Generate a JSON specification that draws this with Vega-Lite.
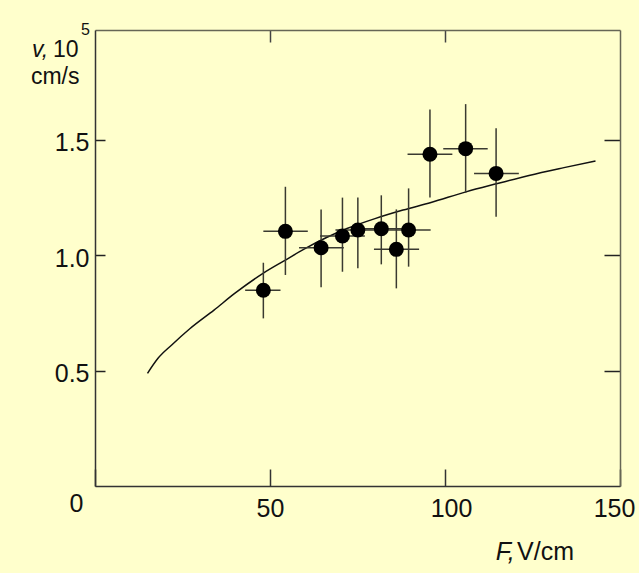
{
  "$schema": "https://vega.github.io/schema/vega-lite/v6.json",
  "width": 525,
  "height": 456,
  "autosize": {"type": "none"},
  "padding": {"left": 95, "top": 30, "right": 19, "bottom": 87},
  "background": "#ffffcc",
  "config": {
    "view": {"stroke": null},
    "font": "Liberation Sans",
    "axis": {"grid": false, "labelFont": "Liberation Sans", "labelFontSize": 25, "labelColor": "#111", "domainWidth": 1.5, "tickWidth": 1.5, "title": null}
  },
  "datasets": {
    "pts": [
      {"F": 48.1, "v": 0.848, "vlo": 0.726, "vhi": 0.967, "Flo": 42.9, "Fhi": 53.0},
      {"F": 54.4, "v": 1.103, "vlo": 0.914, "vhi": 1.296, "Flo": 48.1, "Fhi": 60.8},
      {"F": 64.6, "v": 1.032, "vlo": 0.861, "vhi": 1.198, "Flo": 58.3, "Fhi": 71.1},
      {"F": 70.7, "v": 1.083, "vlo": 0.928, "vhi": 1.249, "Flo": 64.3, "Fhi": 77.1},
      {"F": 75.1, "v": 1.109, "vlo": 0.943, "vhi": 1.250, "Flo": 68.7, "Fhi": 81.5},
      {"F": 81.8, "v": 1.114, "vlo": 0.960, "vhi": 1.259, "Flo": 75.4, "Fhi": 88.2},
      {"F": 86.1, "v": 1.025, "vlo": 0.856, "vhi": 1.198, "Flo": 79.7, "Fhi": 92.6},
      {"F": 89.6, "v": 1.109, "vlo": 0.950, "vhi": 1.289, "Flo": 83.3, "Fhi": 95.9},
      {"F": 95.7, "v": 1.437, "vlo": 1.249, "vhi": 1.631, "Flo": 89.3, "Fhi": 102.1},
      {"F": 105.9, "v": 1.461, "vlo": 1.270, "vhi": 1.654, "Flo": 99.5, "Fhi": 112.2},
      {"F": 114.6, "v": 1.354, "vlo": 1.166, "vhi": 1.549, "Flo": 108.3, "Fhi": 121.1}
    ],
    "curve": [
      {"F": 15, "v": 0.488}, {"F": 18, "v": 0.553}, {"F": 22, "v": 0.612}, {"F": 27, "v": 0.680},
      {"F": 34, "v": 0.762}, {"F": 40, "v": 0.835}, {"F": 48, "v": 0.921}, {"F": 54, "v": 0.975},
      {"F": 60, "v": 1.028}, {"F": 66, "v": 1.075}, {"F": 72, "v": 1.115}, {"F": 80, "v": 1.158},
      {"F": 88, "v": 1.195}, {"F": 96, "v": 1.228}, {"F": 106, "v": 1.274}, {"F": 115, "v": 1.310},
      {"F": 124, "v": 1.345}, {"F": 134, "v": 1.379}, {"F": 143, "v": 1.408}
    ]
  },
  "resolve": {"axis": {"x": "independent", "y": "independent"}},
  "layer": [
    {
      "data": {"name": "curve"},
      "mark": {"type": "line", "color": "#111", "strokeWidth": 1.5, "interpolate": "monotone"},
      "encoding": {
        "x": {"field": "F", "type": "quantitative", "scale": {"domain": [0, 150], "nice": false, "zero": false},
          "axis": {"orient": "bottom", "values": [0, 50, 100, 150], "tickSize": -17, "domainColor": "#333", "tickColor": "#333", "labelFlush": false, "labelOverlap": false, "labelBound": false,
            "labelPadding": {"condition": {"test": "datum.value === 0", "value": 22}, "value": 27},
            "labelOffset": {"condition": [{"test": "datum.value === 0", "value": -19}, {"test": "datum.value === 100", "value": 6}, {"test": "datum.value === 150", "value": -6}], "value": 0}}},
        "y": {"field": "v", "type": "quantitative", "scale": {"domain": [0, 1.975], "nice": false, "zero": false},
          "axis": {"orient": "left", "values": [0.5, 1.0, 1.5], "format": ".1f", "tickSize": -10, "labelPadding": 16, "labelOffset": 3, "domainColor": "#333", "tickColor": "#222"}}
      }
    },
    {
      "data": {"name": "pts"},
      "mark": {"type": "rule", "color": "#3a3a30", "strokeWidth": 1.5},
      "encoding": {
        "x": {"field": "F", "type": "quantitative", "axis": {"orient": "top", "values": [50, 100], "labels": false, "tickSize": -12, "domainColor": "#666655", "tickColor": "#444"}},
        "y": {"field": "vlo", "type": "quantitative", "axis": {"orient": "right", "values": [0.5, 1.0, 1.5], "labels": false, "tickSize": -16, "domainColor": "#666655", "tickColor": "#222"}},
        "y2": {"field": "vhi"}
      }
    },
    {
      "data": {"name": "pts"},
      "mark": {"type": "rule", "color": "#3a3a30", "strokeWidth": 1.5},
      "encoding": {
        "x": {"field": "Flo", "type": "quantitative", "axis": null},
        "x2": {"field": "Fhi"},
        "y": {"field": "v", "type": "quantitative", "axis": null}
      }
    },
    {
      "data": {"name": "pts"},
      "mark": {"type": "point", "shape": "circle", "filled": true, "color": "#000", "opacity": 1, "size": 225},
      "encoding": {
        "x": {"field": "F", "type": "quantitative", "axis": null},
        "y": {"field": "v", "type": "quantitative", "axis": null}
      }
    },
    {
      "data": {"values": [{}]},
      "mark": {"type": "text", "text": "v,", "font": "Liberation Sans", "fontSize": 23, "fontStyle": "italic", "align": "left", "baseline": "alphabetic", "color": "#111"},
      "encoding": {"x": {"datum": -18, "type": "quantitative", "axis": null}, "y": {"datum": 1.858, "type": "quantitative", "axis": null}}
    },
    {
      "data": {"values": [{}]},
      "mark": {"type": "text", "text": "10", "font": "Liberation Sans", "fontSize": 23, "align": "left", "baseline": "alphabetic", "color": "#111"},
      "encoding": {"x": {"datum": -12, "type": "quantitative", "axis": null}, "y": {"datum": 1.858, "type": "quantitative", "axis": null}}
    },
    {
      "data": {"values": [{}]},
      "mark": {"type": "text", "text": "5", "font": "Liberation Sans", "fontSize": 16, "align": "left", "baseline": "alphabetic", "color": "#111"},
      "encoding": {"x": {"datum": -4, "type": "quantitative", "axis": null}, "y": {"datum": 1.953, "type": "quantitative", "axis": null}}
    },
    {
      "data": {"values": [{}]},
      "mark": {"type": "text", "text": "cm/s", "font": "Liberation Sans", "fontSize": 23, "align": "left", "baseline": "alphabetic", "color": "#111"},
      "encoding": {"x": {"datum": -18.3, "type": "quantitative", "axis": null}, "y": {"datum": 1.741, "type": "quantitative", "axis": null}}
    },
    {
      "data": {"values": [{}]},
      "mark": {"type": "text", "text": "F,", "font": "Liberation Sans", "fontSize": 25, "fontStyle": "italic", "align": "left", "baseline": "alphabetic", "color": "#111"},
      "encoding": {"x": {"datum": 114.5, "type": "quantitative", "axis": null}, "y": {"datum": -0.32, "type": "quantitative", "axis": null}}
    },
    {
      "data": {"values": [{}]},
      "mark": {"type": "text", "text": "V/cm", "font": "Liberation Sans", "fontSize": 25, "align": "left", "baseline": "alphabetic", "color": "#111"},
      "encoding": {"x": {"datum": 120.6, "type": "quantitative", "axis": null}, "y": {"datum": -0.32, "type": "quantitative", "axis": null}}
    }
  ]
}
